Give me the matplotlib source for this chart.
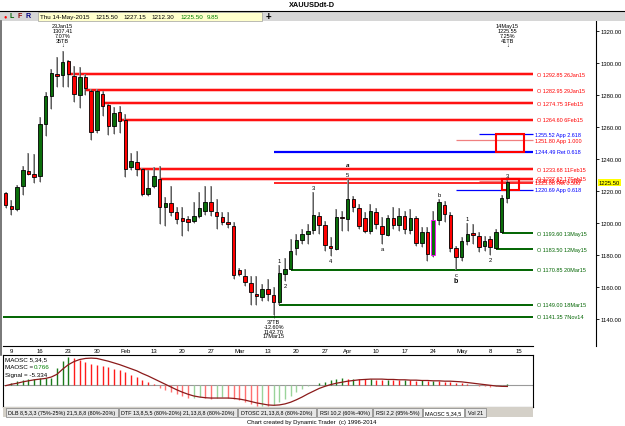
import pandas as pd
import matplotlib
matplotlib.use("Agg")
import matplotlib.pyplot as plt
import matplotlib.transforms as mtransforms
from matplotlib.patches import Rectangle
from matplotlib.lines import Line2D

plt.rcParams['font.family'] = ['Liberation Sans', 'DejaVu Sans']

W, H = 625, 427

# ---- data ----
dates = [d for d in pd.bdate_range('2015-01-09', '2015-05-14') if d != pd.Timestamp('2015-04-03')]

opens = [1218.75, 1210.4, 1208.8, 1223.3, 1232.3, 1230.6, 1229.2, 1261.9, 1279.6, 1293.1,
         1292.5, 1301.4, 1291.7, 1280.2, 1291.4, 1282.3, 1258.3, 1280.6, 1273.9, 1260.4,
         1269.2, 1264.4, 1234.8, 1237.9, 1233.75, 1218.1, 1223.3, 1227.5, 1209.8, 1212.5,
         1207.1, 1203.1, 1202.5, 1201.4, 1204.6, 1207.7, 1212.9, 1207.1, 1203.5, 1200.8,
         1198.3, 1170.6, 1166.9, 1162.3, 1155.6, 1154.0, 1158.75, 1155.0, 1150.4, 1168.0,
         1171.5, 1184.4, 1189.6, 1193.1, 1195.6, 1204.2, 1199.0, 1185.8, 1183.75, 1203.6,
         1202.5, 1215.0, 1209.2, 1202.9, 1194.8, 1206.7, 1198.3, 1192.7, 1202.9, 1198.9,
         1204.6, 1195.8, 1202.9, 1187.5, 1194.6, 1180.0, 1202.0, 1211.4, 1205.0, 1184.2,
         1178.5, 1189.0, 1193.75, 1192.1, 1185.4, 1190.0, 1184.2, 1194.2, 1215.5]
highs = [1219.5, 1214.4, 1223.8, 1235.8, 1243.6, 1243.1, 1266.0, 1281.7, 1296.3, 1303.6,
         1307.41, 1302.0, 1298.3, 1297.3, 1293.0, 1283.75, 1283.75, 1282.7, 1274.4, 1272.3,
         1273.3, 1268.1, 1243.75, 1245.2, 1234.2, 1233.1, 1234.8, 1235.8, 1216.3, 1222.9,
         1209.8, 1209.8, 1204.6, 1212.9, 1219.6, 1223.3, 1223.3, 1215.0, 1206.7, 1206.7,
         1200.4, 1171.9, 1171.2, 1167.1, 1167.1, 1162.0, 1165.0, 1160.0, 1174.0, 1178.0,
         1190.0, 1193.1, 1196.3, 1199.4, 1219.5, 1206.7, 1201.4, 1191.0, 1208.75, 1207.7,
         1227.5, 1216.9, 1211.9, 1206.7, 1211.9, 1209.4, 1203.6, 1205.2, 1209.8, 1209.4,
         1207.7, 1208.75, 1204.6, 1197.3, 1197.3, 1207.3, 1215.0, 1213.9, 1206.7, 1185.4,
         1191.0, 1200.0, 1199.4, 1194.2, 1191.7, 1192.1, 1196.5, 1217.5, 1227.15]
lows = [1209.4, 1205.0, 1207.7, 1217.7, 1230.0, 1225.0, 1225.8, 1254.6, 1271.3, 1285.0,
        1285.0, 1285.0, 1275.4, 1271.7, 1280.0, 1251.9, 1256.0, 1267.0, 1255.2, 1255.6,
        1256.0, 1228.5, 1233.0, 1229.6, 1217.1, 1217.0, 1221.9, 1199.4, 1198.3, 1204.6,
        1199.4, 1192.0, 1195.2, 1200.0, 1203.0, 1205.0, 1204.6, 1196.3, 1199.0, 1197.0,
        1165.0, 1166.6, 1160.6, 1148.8, 1148.8, 1151.5, 1151.5, 1142.7, 1149.0, 1164.0,
        1170.85, 1180.0, 1186.9, 1186.9, 1193.0, 1193.1, 1182.7, 1179.6, 1183.0, 1195.2,
        1195.2, 1207.0, 1196.0, 1194.0, 1193.0, 1196.0, 1186.9, 1191.9, 1196.0, 1195.2,
        1193.1, 1193.0, 1185.8, 1185.0, 1176.4, 1179.0, 1199.0, 1200.4, 1182.0, 1170.85,
        1176.5, 1186.0, 1186.9, 1182.0, 1182.7, 1180.0, 1183.5, 1193.6, 1212.3]
closes = [1211.4, 1208.8, 1222.3, 1233.1, 1230.8, 1228.5, 1261.9, 1279.2, 1293.6, 1292.1,
          1300.4, 1293.1, 1280.6, 1291.4, 1284.2, 1257.1, 1282.7, 1273.3, 1260.4, 1268.75,
          1264.0, 1233.75, 1238.9, 1233.75, 1218.1, 1221.7, 1229.2, 1209.8, 1212.5, 1206.7,
          1202.5, 1201.4, 1200.8, 1204.6, 1209.2, 1212.9, 1207.3, 1204.6, 1200.4, 1199.4,
          1167.5, 1168.1, 1163.1, 1156.7, 1154.6, 1158.75, 1155.6, 1150.4, 1168.5, 1171.25,
          1182.7, 1189.6, 1193.1, 1195.2, 1205.0, 1199.0, 1186.4, 1184.4, 1203.6, 1203.0,
          1215.0, 1209.8, 1197.9, 1195.2, 1207.3, 1199.4, 1193.1, 1202.9, 1199.0, 1204.6,
          1196.3, 1203.1, 1187.5, 1194.2, 1180.6, 1202.0, 1212.9, 1205.6, 1184.2, 1178.5,
          1188.9, 1193.1, 1192.7, 1184.8, 1188.9, 1184.8, 1194.2, 1215.65, 1225.5]

maosc = [-2, 4, 10, 12, 15, 17, 18, 18, 19, 47, 70, 79, 76, 72, 67, 60, 57, 55, 50, 45,
         41, 36, 29, 21, 14, 7, 2, -11, -17, -22, -27, -32, -40, -38, -36, -38, -41, -39, -37, -40,
         -43, -46, -51, -56, -61, -61, -62, -60, -51, -42, -32, -22, -13, -5, -1, 5, 7, 12, 15, 18,
         17, 17, 16, 15, 16, 14, 13, 14, 13, 12, 13, 12, 11, 12, 10, 11, 10, 9, 7, 6,
         4, 1, -2, -4, -5, -6, -5, -3, 0.766]
signal = [-3, 1, 4, 8, 11, 14, 16, 18, 22, 30, 45, 58, 67, 73, 76, 77, 76, 72, 68, 63,
          58, 52, 46, 40, 32, 25, 17, 9, 1, -7, -15, -22, -28, -33, -36, -38, -39, -39, -39, -39,
          -40, -42, -45, -49, -53, -56, -59, -60, -59, -56, -51, -44, -36, -27, -19, -11, -5, 0, 4, 7,
          10, 12, 14, 15, 16, 16, 16, 15, 15, 14, 14, 13, 13, 12, 12, 11, 11, 10, 10, 9,
          8, 6, 4, 2, 0, -2, -4, -5, -5.334]

# horizontal "O" levels from old opens
red_levels = [1292.85, 1282.95, 1274.75, 1264.60, 1233.68, 1227.62]
red_dates = ['2015-01-26', '2015-01-29', '2015-02-03', '2015-02-06', '2015-02-11', '2015-02-17']
green_levels = [1193.60, 1183.50, 1170.85, 1149.00, 1141.35]
green_dates = ['2015-05-13', '2015-05-12', '2015-03-20', '2015-03-18', '2014-11-07']

# fibonacci levels
fib_levels = [1255.52, 1251.80, 1244.49, 1226.35, 1225.08, 1220.69]
fib_names = ['App 2.618', 'App 1.000', 'Ret 0.618', 'App 1.618', 'Ret 0.500', 'App 0.618']
fib_dates = ['2015-05-07', '2015-05-01', '2015-03-17', '2015-05-07', '2015-03-17', '2015-05-01']
fib_colors = ['#0000ff', '#f08080', '#0000ff', '#f08080', '#ff0000', '#0000ff']
fib_text_colors = ['#0000ff', '#ff0000', '#0000ff', '#ff0000', '#ff0000', '#0000ff']

# target zones: start date, end date, low, high
zones = [('2015-05-12', '2015-05-19', 1244.49, 1255.52),
         ('2015-05-13', '2015-05-18', 1220.69, 1227.62)]

# wave labels: text, date, above/below
wave_labels = [('1', '2015-03-18', 1), ('2', '2015-03-19', -1), ('3', '2015-03-26', 1),
               ('4', '2015-03-31', -1), ('5', '2015-04-06', 1), ('a', '2015-04-14', -1),
               ('b', '2015-04-28', 1), ('c', '2015-05-01', -1), ('1', '2015-05-05', 1),
               ('2', '2015-05-11', -1), ('3', '2015-05-14', 1)]

date_labels = ['9', '16', '23', '30', 'Feb', '13', '20', '27', 'Mar', '13', '20', '27',
               'Apr', '10', '17', '24', 'May', '8', '15']
price_ticks = [1140, 1160, 1180, 1200, 1220, 1240, 1260, 1280, 1300, 1320]

idx = {d.strftime('%Y-%m-%d'): i for i, d in enumerate(dates)}


def pos(ds):
    # bar position of a date; dates before the data start at the left edge,
    # dates after it continue on the trading-day grid
    if ds in idx:
        return idx[ds]
    if pd.Timestamp(ds) < dates[0]:
        return -0.47
    return len(dates) - 1 + len(pd.bdate_range(dates[-1], ds)) - 1


def dlabel(ds):
    d = pd.Timestamp(ds)
    return f"{d.day}{d:%b%y}"


# ---- figure helpers (pixel coordinates) ----
fig = plt.figure(figsize=(W / 100, H / 100), dpi=100)
fig.patch.set_facecolor('white')


def pbox(x0, y0, x1, y1):
    return [x0 / W, 1 - y1 / H, (x1 - x0) / W, (y1 - y0) / H]


def frect(x0, y0, x1, y1, **kw):
    fig.add_artist(Rectangle((x0 / W, 1 - y1 / H), (x1 - x0) / W, (y1 - y0) / H,
                             transform=fig.transFigure, **kw))


def fline(xs, ys, **kw):
    fig.add_artist(Line2D([x / W for x in xs], [1 - y / H for y in ys],
                          transform=fig.transFigure, **kw))


def ftext(x, y, s, **kw):
    kw.setdefault('va', 'center')
    kw.setdefault('fontsize', 4.5)
    fig.text(x / W, 1 - y / H, s, **kw)


# title and info bar
ftext(312, 5.5, 'XAUUSDdt-D', ha='center', fontsize=5.3, fontweight='bold')
fline([0, 625], [11.5, 11.5], color='black', lw=0.8)
frect(0, 12, 625, 22, fc='#d6d6d6', ec='none')
frect(38, 13, 262, 21.5, fc='#ffffcc', ec='#a0a0a0', lw=0.5)
ftext(5, 17, '●', color='red', fontsize=4, ha='center')
ftext(12, 17, 'L', color='#006400', fontsize=5, fontweight='bold', ha='center')
ftext(20, 17, 'F', color='#8b0000', fontsize=5, fontweight='bold', ha='center')
ftext(28, 17, 'R', color='#000080', fontsize=5, fontweight='bold', ha='center')
ftext(40, 17.3, dates[-1].strftime('%a %d-%b-%Y'))
ftext(95, 17.3, f"{opens[-1]:.2f}")
ftext(123, 17.3, f"{highs[-1]:.2f}")
ftext(151, 17.3, f"{lows[-1]:.2f}")
ftext(180, 17.3, f"{closes[-1]:.2f}", color='#008000')
ftext(207, 17.3, f"{closes[-1] - closes[-2]:.2f}", color='#008000')
ftext(268, 17, '+', fontsize=7, fontweight='bold', ha='center')

# ---- main price panel ----
ax = fig.add_axes(pbox(3, 22, 596, 347))
ax.set_xlim(-0.47, 103.56)
ax.set_ylim(1123.1, 1326.25)
for s in ['top', 'bottom', 'left']:
    ax.spines[s].set_visible(False)
ax.spines['right'].set_linewidth(0.8)
ax.set_xticks([])
ax.yaxis.tick_right()
ax.set_yticks(price_ticks)
ax.set_yticklabels([f"{p:.2f}" for p in price_ticks])
ax.tick_params(axis='y', length=2.5, width=0.6, labelsize=4.2, pad=1)

xend = 92.5
# red open levels
for lev, ds in zip(red_levels, red_dates):
    x0 = pos(ds)
    ax.hlines(lev, x0, xend, color='#ffb0b0', lw=2.6, zorder=2)
    ax.hlines(lev, x0, xend, color='#ff0000', lw=1.3, zorder=2)
    ax.text(93.2, lev, f"O {lev:.2f} {dlabel(ds)}", fontsize=4, color='#ff0000',
            va='center', clip_on=False)
# green open levels
for lev, ds in zip(green_levels, green_dates):
    x0 = pos(ds)
    ax.hlines(lev, x0, xend, color='#006400', lw=1.4, zorder=2)
    ax.text(93.2, lev, f"O {lev:.2f} {dlabel(ds)}", fontsize=4, color='#006400',
            va='center', clip_on=False)
# fibonacci levels
for lev, nm, ds, c, tc in zip(fib_levels, fib_names, fib_dates, fib_colors, fib_text_colors):
    lw = 1.6 if nm == 'Ret 0.618' else (1.2 if nm == 'Ret 0.500' else 0.9)
    ax.hlines(lev, pos(ds), xend, color=c, lw=lw, zorder=2)
    ax.text(92.9, lev, f"{lev:.2f} {nm}", fontsize=4, color=tc, va='center', clip_on=False)
# target zones
for d0, d1, lo, hi in zones:
    x0, x1 = pos(d0), pos(d1)
    ax.add_patch(Rectangle((x0, lo), x1 - x0, hi - lo, fill=False, ec='#ff0000', lw=1.5, zorder=4))

# candles
for i, (o, h, l, c) in enumerate(zip(opens, highs, lows, closes)):
    up = c >= o
    ax.vlines(i, l, h, color='#9a9a9a', lw=1.2, zorder=3)
    ax.vlines(i, l, h, color='#202020', lw=0.4, zorder=3)
    ec = '#ff00ff' if i == 75 else 'black'
    ax.add_patch(Rectangle((i - 0.31, min(o, c)), 0.62, max(abs(c - o), 0.9),
                           fc='#0a6e0a' if up else '#ff0000', ec=ec, lw=0.6, zorder=5))

# wave labels
for t, ds, side in wave_labels:
    i = idx[ds]
    y = highs[i] if side > 0 else lows[i]
    ax.annotate(t, (i, y), xytext=(0, 2 * side), textcoords='offset pixels', ha='center',
                va='bottom' if side > 0 else 'top', fontsize=4.2, zorder=6)
ax.annotate('a', (idx['2015-04-06'], highs[idx['2015-04-06']]), xytext=(0, 12),
            textcoords='offset pixels', ha='center', va='bottom', fontsize=4.5,
            fontweight='bold', fontstyle='italic')
ax.annotate('b', (idx['2015-05-01'], lows[idx['2015-05-01']]), xytext=(0, -7),
            textcoords='offset pixels', ha='center', va='top', fontsize=5, fontweight='bold')

# top / bottom pivot annotations
tr = mtransforms.blended_transform_factory(ax.transData, ax.transAxes)
ax.text(10, 0.993, '23Jan15\n1307.41\n7.07%\n35TB\n↓', transform=tr, ha='center', va='top',
        fontsize=4, linespacing=0.95)
ax.text(88, 0.993, '14May15\n1225.55\n7.25%\n41TB\n↓', transform=tr, ha='center', va='top',
        fontsize=4, linespacing=0.95)
ax.text(47, 0.098, '↑\n37TB\n-12.60%\n1142.70\n17Mar15', transform=tr, ha='center', va='top',
        fontsize=4, linespacing=0.95, clip_on=False, zorder=7)

# current price tag
ax.annotate(f"{closes[-1]:.2f}", (1, closes[-1]), xycoords=('axes fraction', 'data'),
            xytext=(3, 0), textcoords='offset pixels', va='center', fontsize=4.2,
            bbox=dict(boxstyle='square,pad=0.15', fc='#ffff00', ec='none'), annotation_clip=False)

# ---- date strip ----
ds_ax = fig.add_axes(pbox(3, 347, 533, 356))
ds_ax.set_xlim(-0.47, 92.5)
ds_ax.set_ylim(0, 1)
ds_ax.set_axis_off()
mondays = [i for i, d in enumerate(dates) if d.weekday() == 0] + [len(dates) + 1]
for m, lab in zip(mondays, date_labels):
    ds_ax.text(m, 0.45, lab, ha='center', va='center', fontsize=4.3)
fline([3, 533], [347, 347], color='black', lw=0.8)
fline([1, 1], [22, 356], color='#606060', lw=1.2)

# ---- oscillator panel ----
osc = fig.add_axes(pbox(3, 356, 533, 408))
osc.set_xlim(-0.47, 92.5)
osc.set_ylim(-65, 86)
osc.set_xticks([])
osc.set_yticks([])
for s in osc.spines.values():
    s.set_linewidth(0.8)
osc.axhline(0, color='#9a9a9a', lw=0.8)
bar_colors = []
for i, v in enumerate(maosc):
    rising = i == 0 or v >= maosc[i - 1]
    if rising:
        bar_colors.append('#1a7a1a' if v >= 0 else '#9ad39a')
    else:
        bar_colors.append('#ff1a1a' if v >= 0 else '#ff7070')
osc.vlines(range(len(maosc)), 0, maosc, colors=bar_colors, lw=1.0)
osc.plot(range(len(signal)), signal, color='#8b1a1a', lw=0.9)
osc.text(0.004, 0.93, 'MAOSC 5,34,5', transform=osc.transAxes, fontsize=4.5, va='center')
osc.text(0.004, 0.78, 'MAOSC =', transform=osc.transAxes, fontsize=4.5, va='center')
osc.text(0.058, 0.78, f"{maosc[-1]:.3f}", transform=osc.transAxes, fontsize=4.5, va='center',
         color='#008000')
osc.text(0.004, 0.63, f"Signal = {signal[-1]:.3f}", transform=osc.transAxes, fontsize=4.5,
         va='center')

# ---- indicator tabs ----
frect(3, 408, 533, 418, fc='#d4d0c8', ec='none')
tabs = ['DLB 8,5,3,3 (75%-25%) 21,5,8,8 (80%-20%)', 'DTF 13,8,5,5 (80%-20%) 21,13,8,8 (80%-20%)',
        'DTOSC 21,13,8,8 (80%-20%)', 'RSI 10,2 (60%-40%)', 'RSI 2,2 (95%-5%)', 'MAOSC 5,34,5',
        'Vol 21']
tab_edges = [6, 119, 238, 317, 373, 423, 465, 487]
for k, t in enumerate(tabs):
    x0, x1 = tab_edges[k], tab_edges[k + 1] - 1
    frect(x0, 409, x1, 417.5, fc='white' if t == 'MAOSC 5,34,5' else '#e6e6e6',
          ec='#808080', lw=0.5)
    ftext((x0 + x1) / 2, 413.3, t, ha='center', fontsize=3.9)
ftext(312, 422.5, 'Chart created by Dynamic Trader  (c) 1996-2014', ha='center', fontsize=4.3)

fig.savefig('out.png', dpi=100, facecolor='white')
